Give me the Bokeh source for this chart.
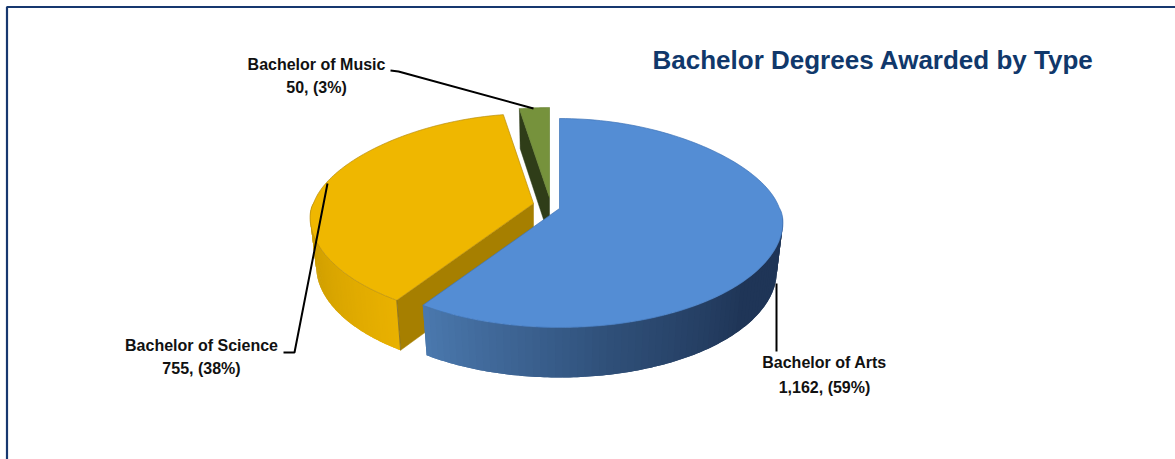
import math
import numpy as np
from bokeh.plotting import figure
from bokeh.models import Range1d
from bokeh.core.properties import value
from bokeh.embed import file_html
from bokeh.resources import INLINE

categories = ["Bachelor of Arts", "Bachelor of Science", "Bachelor of Music"]
values = [1162, 755, 50]
percents = [59, 38, 3]
title = "Bachelor Degrees Awarded by Type"

W, H = 1175, 459
p = figure(width=W, height=H, output_backend="svg", toolbar_location=None,
           x_range=Range1d(0, W), y_range=Range1d(H, 0), min_border=0,
           outline_line_color=None, background_fill_color="white",
           border_fill_color="white")
p.axis.visible = False
p.grid.visible = False
p.xaxis.visible = False
p.yaxis.visible = False
p.styles = {"position": "absolute", "left": "0px", "top": "0px"}

NAVY = "#17386f"
p.line([6.5, 6.5, W], [H, 6.5, 6.5], line_color=NAVY, line_width=2.2)

# slice geometry
RX, BACK, FRONT, DEPTH = 220.0, 90.0, 119.0, 50.0
total = sum(values)
angles = np.cumsum([0] + values) / total * 360.0


def pt(apex, deg, dz=0.0):
    t = np.radians(deg)
    s, c = np.sin(t), np.cos(t)
    widen = 1 - 0.14 * c if c > 0 else 1 - 0.18 * c
    x = apex[0] + RX * s * widen * (0.972 if dz > 0 else 1.0)
    y = apex[1] - (BACK * c if c > 0 else -FRONT * abs(c) ** 1.2) + dz
    return x, y


def arc(apex, a0, a1, dz=0.0, n=120):
    pts = [pt(apex, a, dz) for a in np.linspace(a0, a1, n)]
    return [q[0] for q in pts], [q[1] for q in pts]


def lerp_color(stops, f):
    for (f0, c0), (f1, c1) in zip(stops, stops[1:]):
        if f <= f1:
            k = 0 if f1 == f0 else max(0.0, (f - f0) / (f1 - f0))
            a = [int(c0[i:i + 2], 16) for i in (1, 3, 5)]
            b = [int(c1[i:i + 2], 16) for i in (1, 3, 5)]
            return "#%02x%02x%02x" % tuple(round(a[i] + (b[i] - a[i]) * k) for i in range(3))
    return stops[-1][1]


def side(apex, a0, a1, stops, n=70):
    """Outer rim from angle a0 to a1, shaded in overlapping strips."""
    edges = np.linspace(a0, a1, n + 1)
    for i in range(n):
        end = edges[min(i + 2, n)]
        ax, ay = arc(apex, edges[i], end, 0.0, 5)
        bx, by = arc(apex, edges[i], end, DEPTH, 5)
        c = lerp_color(stops, i / (n - 1))
        p.patch(ax + bx[::-1], ay + by[::-1], fill_color=c, line_color=None)


def radial(apex, deg, color, depth):
    e = pt(apex, deg)
    b = pt(apex, deg, depth)
    p.patch([apex[0], e[0], b[0], apex[0]], [apex[1], e[1], b[1], apex[1] + depth],
            fill_color=color, line_color=color, line_width=0.5)


def top(apex, a0, a1, color, edge):
    x, y = arc(apex, a0, a1)
    p.patch([apex[0]] + x, [apex[1]] + y, fill_color=color, line_color=edge, line_width=0.7)


APEX_ARTS = (559, 208)
APEX_SCI = (533, 203)
APEX_MUS = (549, 197)

# Music (drawn first, furthest back)
radial(APEX_MUS, angles[2], "#2f3d18", 40)
top(APEX_MUS, angles[2], angles[3], "#76923c", "#6a8536")

# Science
radial(APEX_SCI, angles[1], "#a67f00", DEPTH)
side(APEX_SCI, 272, angles[1], [(0, "#c29500"), (1, "#e9b100")])
top(APEX_SCI, angles[1], angles[2], "#efb700", "#b78e10")
e0, e1 = pt(APEX_SCI, angles[1]), pt(APEX_SCI, angles[1], DEPTH)
p.line([e0[0], e1[0]], [e0[1], e1[1]], line_color="#7a6a30", line_width=0.8)

# Arts
side(APEX_ARTS, 96, angles[1], [(0, "#1f3557"), (0.3, "#1f3557"), (0.62, "#2f4f78"), (1, "#4a78ad")])
top(APEX_ARTS, angles[0], angles[1], "#548dd4", "#3f74b8")

# leader lines
LEADER = "#000000"
p.line([776, 776], [283, 351], line_color=LEADER, line_width=2)
p.line([283, 294, 327], [352, 352, 183], line_color=LEADER, line_width=2)
p.line([390, 398, 533], [70, 71, 108], line_color=LEADER, line_width=2)


def label(i, cx, y1, y2):
    for txt, y in ((categories[i], y1), (f"{values[i]:,}, ({percents[i]}%)", y2)):
        p.text([cx], [y], text=[txt], text_font=value("Liberation Sans"), text_font_style="bold",
               text_font_size="16px", text_color="#111111", text_align="center", text_baseline="middle")


label(0, 824, 362, 387)
label(1, 201, 345, 368)
label(2, 316, 64, 87)

p.text([652], [59], text=[title], text_font=value("Liberation Sans"), text_font_style="bold",
       text_font_size="26px", text_color="#10386b", text_align="left", text_baseline="middle")

open("out.html", "w").write(file_html(p, INLINE))
